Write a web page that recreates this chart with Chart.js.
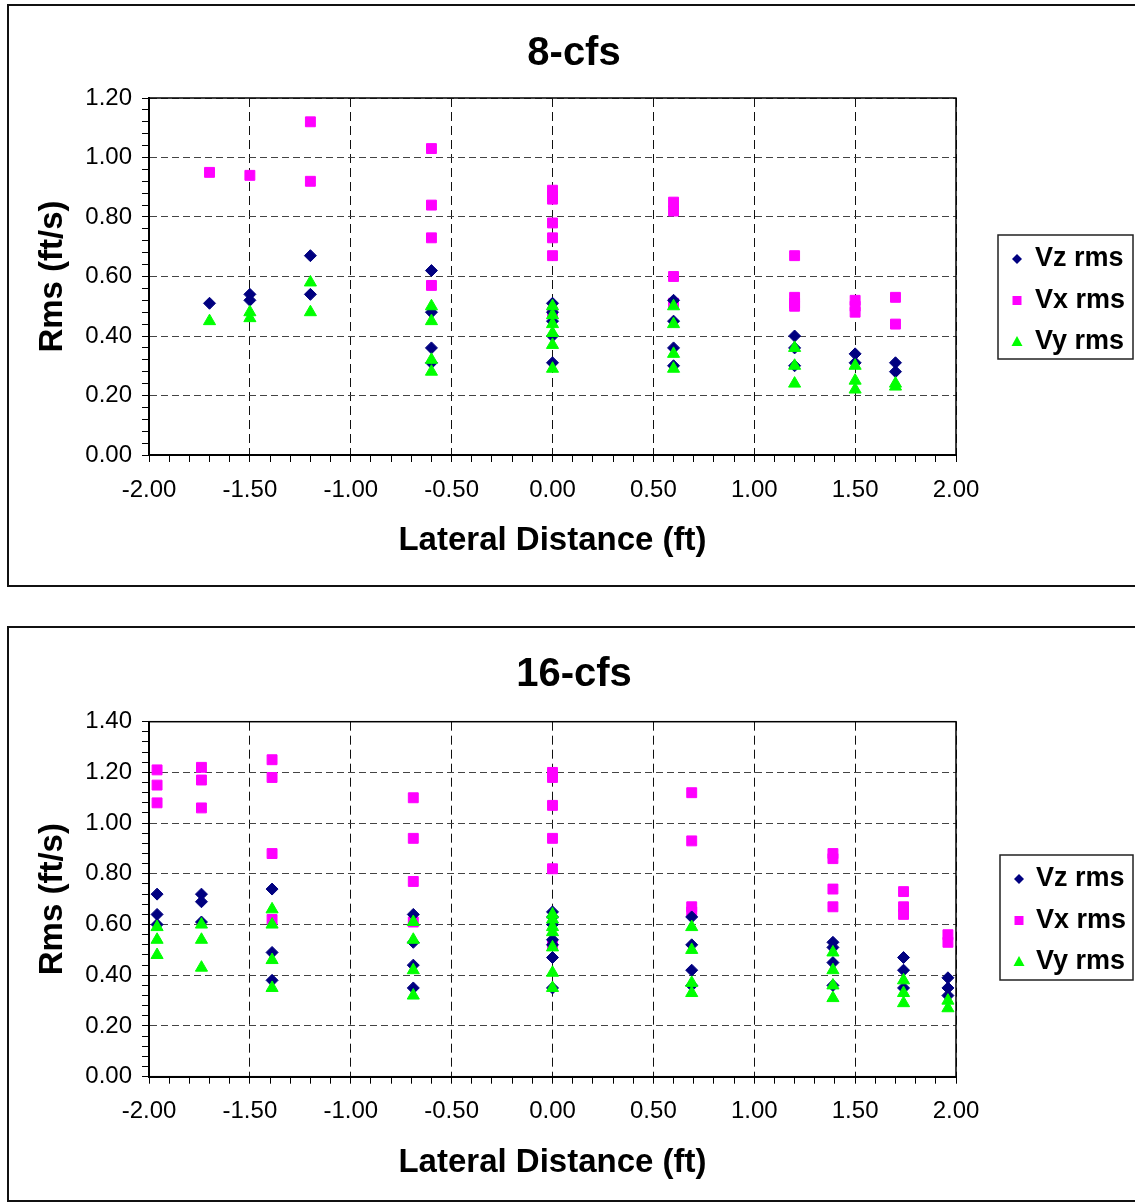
<!DOCTYPE html>
<html lang="en">
<head>
    <meta charset="UTF-8">
    <title>Rms vs Lateral Distance</title>
    <script src="https://cdn.jsdelivr.net/npm/chart.js"></script>
    <style>
        body { margin: 0; padding: 0; background: #fff; overflow: hidden; }
        .box { position: absolute; left: 7px; width: 1140px; border: 2px solid #111; }
        #box1 { top: 4px; height: 579px; }
        #box2 { top: 626px; height: 572px; }
        canvas { position: absolute; left: 0; }
        #chart8 { top: 0; }
        #chart16 { top: 600px; }
    </style>
</head>
<body>

<div class="box" id="box1"></div>
<div class="box" id="box2"></div>
<canvas id="chart8" width="1135" height="600"></canvas>
<canvas id="chart16" width="1135" height="602"></canvas>

<script>
    // 8-cfs readings  [lateral distance (ft), rms (ft/s)]
    const vz8 = [
        [-1.7, 0.51], [-1.5, 0.54], [-1.5, 0.52], [-1.2, 0.67], [-1.2, 0.54],
        [-0.6, 0.62], [-0.6, 0.48], [-0.6, 0.36], [-0.6, 0.31],
        [0, 0.51], [0, 0.48], [0, 0.45], [0, 0.40], [0, 0.31],
        [0.6, 0.52], [0.6, 0.45], [0.6, 0.36], [0.6, 0.30],
        [1.2, 0.40], [1.2, 0.36], [1.2, 0.30],
        [1.5, 0.34], [1.5, 0.31], [1.7, 0.31], [1.7, 0.28]
    ];
    const vx8 = [
        [-1.7, 0.95], [-1.5, 0.94], [-1.2, 1.12], [-1.2, 0.92],
        [-0.6, 1.03], [-0.6, 0.84], [-0.6, 0.73], [-0.6, 0.57],
        [0, 0.89], [0, 0.87], [0, 0.86], [0, 0.78], [0, 0.73], [0, 0.67], [0, 0.48],
        [0.6, 0.85], [0.6, 0.82], [0.6, 0.60], [0.6, 0.51],
        [1.2, 0.67], [1.2, 0.53], [1.2, 0.51], [1.2, 0.50],
        [1.5, 0.52], [1.5, 0.50], [1.5, 0.48], [1.7, 0.53], [1.7, 0.44]
    ];
    const vy8 = [
        [-1.7, 0.45], [-1.5, 0.48], [-1.5, 0.46], [-1.2, 0.58], [-1.2, 0.48],
        [-0.6, 0.50], [-0.6, 0.45], [-0.6, 0.32], [-0.6, 0.28],
        [0, 0.50], [0, 0.47], [0, 0.44], [0, 0.41], [0, 0.37], [0, 0.29],
        [0.6, 0.50], [0.6, 0.44], [0.6, 0.34], [0.6, 0.29],
        [1.2, 0.36], [1.2, 0.30], [1.2, 0.24],
        [1.5, 0.30], [1.5, 0.25], [1.5, 0.22], [1.7, 0.24], [1.7, 0.23]
    ];

    // 16-cfs readings
    const vz16 = [
        [-1.96, 0.72], [-1.96, 0.64], [-1.96, 0.60],
        [-1.74, 0.72], [-1.74, 0.69], [-1.74, 0.61],
        [-1.39, 0.74], [-1.39, 0.49], [-1.39, 0.38],
        [-0.69, 0.64], [-0.69, 0.53], [-0.69, 0.44], [-0.69, 0.35],
        [0, 0.65], [0, 0.63], [0, 0.60], [0, 0.54], [0, 0.52], [0, 0.47], [0, 0.35],
        [0.69, 0.63], [0.69, 0.52], [0.69, 0.42], [0.69, 0.36],
        [1.39, 0.53], [1.39, 0.51], [1.39, 0.45], [1.39, 0.36],
        [1.74, 0.47], [1.74, 0.42], [1.74, 0.35],
        [1.96, 0.39], [1.96, 0.35], [1.96, 0.32]
    ];
    const vx16 = [
        [-1.96, 1.21], [-1.96, 1.15], [-1.96, 1.08],
        [-1.74, 1.22], [-1.74, 1.17], [-1.74, 1.06],
        [-1.39, 1.25], [-1.39, 1.18], [-1.39, 0.88], [-1.39, 0.62],
        [-0.69, 1.10], [-0.69, 0.94], [-0.69, 0.77], [-0.69, 0.61],
        [0, 1.20], [0, 1.18], [0, 1.07], [0, 0.94], [0, 0.82], [0, 0.52],
        [0.69, 1.12], [0.69, 0.93], [0.69, 0.67], [0.69, 0.65],
        [1.39, 0.88], [1.39, 0.86], [1.39, 0.74], [1.39, 0.67],
        [1.74, 0.73], [1.74, 0.67], [1.74, 0.64],
        [1.96, 0.56], [1.96, 0.53]
    ];
    const vy16 = [
        [-1.96, 0.59], [-1.96, 0.54], [-1.96, 0.48],
        [-1.74, 0.60], [-1.74, 0.54], [-1.74, 0.43],
        [-1.39, 0.66], [-1.39, 0.60], [-1.39, 0.46], [-1.39, 0.35],
        [-0.69, 0.61], [-0.69, 0.54], [-0.69, 0.42], [-0.69, 0.32],
        [0, 0.64], [0, 0.62], [0, 0.59], [0, 0.57], [0, 0.51], [0, 0.41], [0, 0.35],
        [0.69, 0.59], [0.69, 0.50], [0.69, 0.37], [0.69, 0.33],
        [1.39, 0.49], [1.39, 0.42], [1.39, 0.36], [1.39, 0.31],
        [1.74, 0.38], [1.74, 0.33], [1.74, 0.29],
        [1.96, 0.30], [1.96, 0.27]
    ];

    const seriesNames = ['Vz rms', 'Vx rms', 'Vy rms'];
    const xTitle = 'Lateral Distance (ft)';
    const yTitle = 'Rms (ft/s)';

    Chart.defaults.font.family = "Arial, 'Liberation Sans', sans-serif";
    Chart.defaults.color = '#000';

    const toPts = arr => arr.map(p => ({ x: p[0], y: p[1] }));
    const isMult = (v, step) => Math.abs(v / step - Math.round(v / step)) < 1e-6;

    // small marker drawer for the boxed legend
    function drawMarker(ctx, style, x, y, color) {
        ctx.fillStyle = color;
        ctx.beginPath();
        if (style === 'rectRot') {
            ctx.moveTo(x - 5, y); ctx.lineTo(x, y - 5); ctx.lineTo(x + 5, y); ctx.lineTo(x, y + 5);
        } else if (style === 'rect') {
            ctx.rect(x - 4.5, y - 4.5, 9, 9);
        } else {
            ctx.moveTo(x, y - 6); ctx.lineTo(x + 5.5, y + 4); ctx.lineTo(x - 5.5, y + 4);
        }
        ctx.closePath();
        ctx.fill();
    }

    const boxLegend = {
        id: 'boxLegend',
        afterDraw(chart, args, opts) {
            const ctx = chart.ctx;
            ctx.save();
            ctx.strokeStyle = '#222';
            ctx.lineWidth = 1.5;
            ctx.strokeRect(opts.x, opts.y, opts.w, opts.h);
            ctx.font = "bold 27px Arial, 'Liberation Sans', sans-serif";
            ctx.textBaseline = 'middle';
            chart.data.datasets.forEach((ds, i) => {
                const cy = opts.y + opts.first + i * opts.gap;
                drawMarker(ctx, ds.pointStyle, opts.x + opts.mx, cy, ds.backgroundColor);
                ctx.fillStyle = '#000';
                ctx.fillText(ds.label, opts.x + opts.tx, cy);
            });
            ctx.restore();
        }
    };

    // solid frame round the plot area
    const plotFrame = {
        id: 'plotFrame',
        beforeDatasetsDraw(chart) {
            const a = chart.chartArea, ctx = chart.ctx;
            ctx.save();
            ctx.strokeStyle = '#000';
            ctx.lineWidth = 1.5;
            ctx.strokeRect(a.left, a.top, a.right - a.left, a.bottom - a.top);
            ctx.restore();
        }
    };

    function makeChart(id, title, yMax, data, sizes) {
        const datasets = [
            { label: seriesNames[0], data: toPts(data[0]), pointStyle: 'rectRot', pointRadius: 6,
              backgroundColor: '#000080', borderColor: '#000080', borderWidth: 1, order: 2 },
            { label: seriesNames[1], data: toPts(data[1]), pointStyle: 'rect', pointRadius: 7,
              backgroundColor: '#ff00ff', borderColor: '#ff00ff', borderWidth: 1, order: 3 },
            { label: seriesNames[2], data: toPts(data[2]), pointStyle: 'triangle', pointRadius: 7,
              backgroundColor: '#00ff00', borderColor: '#00ff00', borderWidth: 1, order: 1 }
        ];
        return new Chart(document.getElementById(id), {
            type: 'scatter',
            data: { datasets },
            plugins: [boxLegend, plotFrame],
            options: {
                responsive: false,
                animation: false,
                layout: { padding: { left: 13, right: 0, top: 0, bottom: 0 } },
                plugins: {
                    legend: { display: false },
                    tooltip: { enabled: false },
                    title: {
                        display: true,
                        text: title,
                        font: { size: 40, weight: 'bold' },
                        color: '#000',
                        padding: { top: sizes.titleTop, bottom: sizes.titleBottom }
                    },
                    boxLegend: sizes.legend
                },
                scales: {
                    x: {
                        type: 'linear',
                        min: -2, max: 2,
                        afterFit: s => { s.height = sizes.xHeight; },
                        ticks: {
                            stepSize: 0.1, autoSkip: false, maxRotation: 0,
                            padding: sizes.xTickPad,
                            font: { size: 24 },
                            callback: v => isMult(v, 0.5) ? v.toFixed(2) : ''
                        },
                        grid: {
                            color: c => isMult(c.tick.value, 0.5) ? '#111' : 'rgba(0,0,0,0)',
                            tickColor: '#000',
                            tickLength: 7,
                            lineWidth: 1
                        },
                        border: { color: '#000', width: 2, dash: [9, 5] },
                        title: {
                            display: true, text: xTitle,
                            font: { size: 33, weight: 'bold' },
                            padding: { top: 0, bottom: sizes.xTitleBottom }
                        }
                    },
                    y: {
                        type: 'linear',
                        min: 0, max: yMax,
                        afterFit: s => { s.width = 136; },
                        ticks: {
                            stepSize: 0.04, autoSkip: false,
                            padding: 10,
                            font: { size: 24 },
                            callback: v => isMult(v, 0.2) ? v.toFixed(2) : ''
                        },
                        grid: {
                            color: c => isMult(c.tick.value, 0.2) ? '#444' : 'rgba(0,0,0,0)',
                            tickColor: '#000',
                            tickLength: 7,
                            lineWidth: 1
                        },
                        border: { color: '#000', width: 2, dash: [7, 4] },
                        title: {
                            display: true, text: yTitle,
                            font: { size: 33, weight: 'bold' },
                            padding: { top: 20, bottom: 0 }
                        }
                    },
                    // empty right-hand column that holds the legend
                    yRight: {
                        type: 'linear',
                        position: 'right',
                        afterFit: s => { s.width = 179; },
                        ticks: { display: false },
                        grid: { display: false, drawTicks: false },
                        border: { display: false }
                    }
                }
            }
        });
    }

    makeChart('chart8', '8-cfs', 1.2, [vz8, vx8, vy8], {
        titleTop: 30, titleBottom: 20,
        xHeight: 145, xTickPad: 14, xTitleBottom: 39,
        legend: { x: 998, y: 235, w: 135, h: 124, first: 24, gap: 41.5, mx: 19, tx: 37 }
    });

    makeChart('chart16', '16-cfs', 1.4, [vz16, vx16, vy16], {
        titleTop: 51, titleBottom: 22.7,
        xHeight: 125.3, xTickPad: 13.5, xTitleBottom: 19,
        legend: { x: 1000, y: 255, w: 133, h: 125, first: 24, gap: 41.5, mx: 19, tx: 36 }
    });
</script>

</body>
</html>
